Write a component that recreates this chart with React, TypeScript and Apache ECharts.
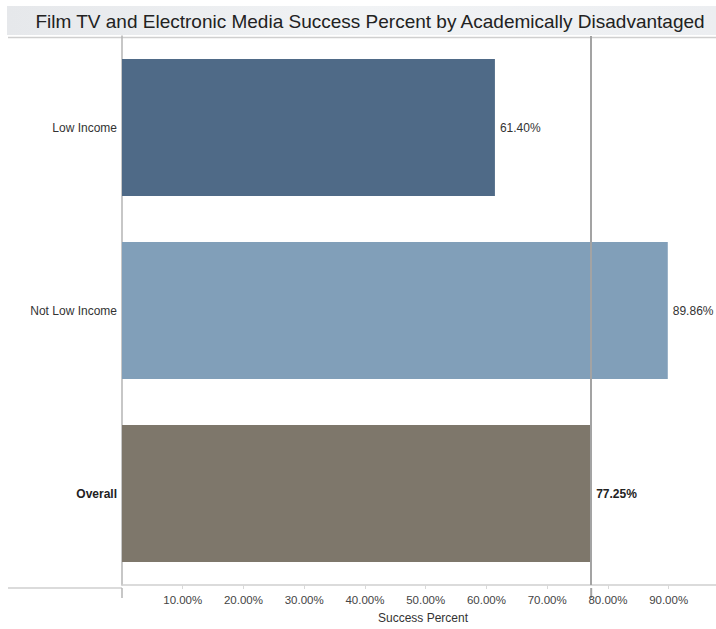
import React, { useEffect, useRef } from "react";
import * as echarts from "echarts";

const titleText = "Film TV and Electronic Media Success Percent by Academically Disadvantaged";
const categories = ["Low Income", "Not Low Income", "Overall"];
const successValues = [61.4, 89.86, 77.25];
const barColors = ["#4f6a87", "#819fb9", "#7e776b"];
const overallReference = 77.25;
const xTicks = [10, 20, 30, 40, 50, 60, 70, 80, 90];
const xAxisName = "Success Percent";

const FONT = "'Liberation Sans', Arial, sans-serif";

export default function App() {
  const ref = useRef<HTMLDivElement>(null);
  useEffect(() => {
    document.body.style.margin = "0";
    const chart = echarts.init(ref.current!, null, { renderer: "svg" });
    const option: any = {
      animation: false,
      textStyle: { fontFamily: FONT },
      grid: { left: 122, right: 0, top: 36, bottom: 41, containLabel: false },
      xAxis: {
        type: "value",
        min: 0,
        max: 97.8,
        interval: 10,
        name: xAxisName,
        nameLocation: "middle",
        nameGap: 27,
        nameTextStyle: { fontFamily: FONT, fontSize: 12, color: "#333", padding: [0, 0, 0, 8] },
        axisLine: { show: true, lineStyle: { color: "#cfcfcf", width: 1.5 } },
        axisTick: { show: true, length: 4, lineStyle: { color: "#d8d8d8" } },
        splitLine: { show: false },
        axisLabel: {
          showMinLabel: false,
          showMaxLabel: false,
          margin: 9,
          fontFamily: FONT,
          fontSize: 11.5,
          color: "#444",
          formatter: (v: number) => (xTicks.includes(Math.round(v)) ? v.toFixed(2) + "%" : ""),
        },
      },
      yAxis: {
        type: "category",
        data: categories,
        inverse: true,
        axisLine: { show: true, lineStyle: { color: "#b5b5b5", width: 1.5 } },
        axisTick: { show: false },
        axisLabel: {
          margin: 5,
          fontFamily: FONT,
          fontSize: 12,
          color: "#333",
          formatter: (v: string) => (v === "Overall" ? "{b|" + v + "}" : v),
          rich: { b: { fontWeight: "bold", fontFamily: FONT, fontSize: 12, color: "#222" } },
        },
      },
      series: [
        {
          type: "bar",
          barWidth: 137,
          data: successValues.map((v, i) => ({
            value: v,
            itemStyle: { color: barColors[i] },
            label: {
              show: true,
              position: "right",
              distance: 5,
              fontFamily: FONT,
              fontSize: 12,
              color: i === 2 ? "#222" : "#333",
              fontWeight: i === 2 ? "bold" : "normal",
              formatter: (p: any) => p.value.toFixed(2) + "%",
            },
          })),
          markLine: {
            silent: true,
            symbol: "none",
            label: { show: false },
            lineStyle: { color: "#a3a3a3", width: 2, type: "solid" },
            data: [{ xAxis: overallReference }],
          },
          z: 2,
        },
      ],
      graphic: [
        {
          type: "rect",
          shape: { x: 7, y: 6, width: 709, height: 29 },
          style: {
            fill: new echarts.graphic.LinearGradient(0, 0, 1, 0, [
              { offset: 0, color: "#e6e8eb" },
              { offset: 0.5, color: "#f1f3f5" },
              { offset: 1, color: "#eceef1" },
            ]),
          },
          z: -1,
        },
        {
          type: "text",
          x: 370,
          y: 21,
          style: {
            text: titleText,
            fontFamily: FONT,
            fontSize: 19,
            fill: "#222",
            align: "center",
            verticalAlign: "middle",
          },
        },
        {
          type: "line",
          shape: { x1: 8, y1: 37.5, x2: 716, y2: 37.5 },
          style: { stroke: "#cfcfcf", lineWidth: 1.5 },
        },
        {
          type: "line",
          shape: { x1: 8, y1: 588, x2: 122, y2: 588 },
          style: { stroke: "#cfcfcf", lineWidth: 1.5 },
        },
      ],
    };
    chart.setOption(option);
    // extend the y-axis line and the reference line slightly below the x axis
    const x0 = chart.convertToPixel({ xAxisIndex: 0 }, 0) as number;
    const xr = chart.convertToPixel({ xAxisIndex: 0 }, overallReference) as number;
    chart.setOption({
      graphic: [
        ...option.graphic,
        { type: "line", shape: { x1: x0, y1: 588, x2: x0, y2: 598 }, style: { stroke: "#b5b5b5", lineWidth: 1.5 } },
        { type: "line", shape: { x1: xr, y1: 588, x2: xr, y2: 598 }, style: { stroke: "#a3a3a3", lineWidth: 2 } },
      ],
    });
    return () => chart.dispose();
  }, []);
  return <div ref={ref} style={{ width: 716, height: 629 }} />;
}
